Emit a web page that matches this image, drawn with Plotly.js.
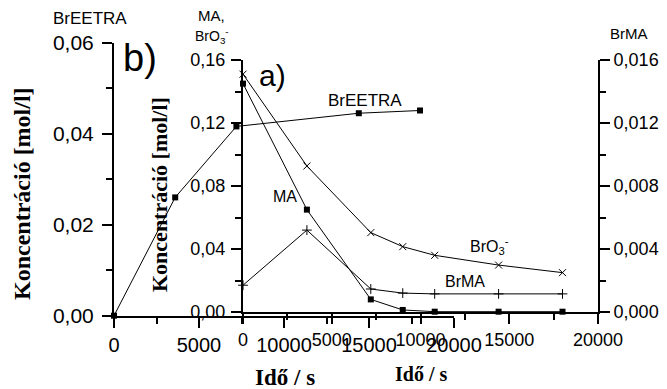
<!DOCTYPE html>
<html>
<head>
<meta charset="utf-8">
<script src="https://cdn.plot.ly/plotly-3.0.1.min.js"></script>
<style>html,body{margin:0;padding:0;background:#fff;}#chart{width:667px;height:389px;}</style>
</head>
<body>
<div id="chart"></div>
<script>
// ---- Data ----
// Plot b): BrEETRA vs time
const timeB = [0, 3600, 7200, 14400, 18000];
const brEETRA = [0, 0.026, 0.0416, 0.0445, 0.0451];

// Plot a): MA, BrO3-, BrMA vs time
const timeA = [0, 3600, 7200, 9000, 10800, 14400, 18000];
const maConc = [0.145, 0.065, 0.008, 0.0013, 0.0002, 0.0002, 0.0002];
const bro3Conc = [0.151, 0.0927, 0.0504, 0.0415, 0.036, 0.0298, 0.025];
const brmaConc = [0.0017, 0.0052, 0.00146, 0.0012, 0.00115, 0.00115, 0.00115];

// Tick values / labels
const xTickVals = [0, 5000, 10000, 15000, 20000];
const xTickText = ["0", "5000", "10000", "15000", "20000"];
const yBTickVals = [0, 0.02, 0.04, 0.06];
const yBTickText = ["0,00", "0,02", "0,04", "0,06"];
const yATickVals = [0, 0.04, 0.08, 0.12, 0.16];
const yATickText = ["0,00", "0,04", "0,08", "0,12", "0,16"];
const yRTickVals = [0, 0.004, 0.008, 0.012, 0.016];
const yRTickText = ["0,000", "0,004", "0,008", "0,012", "0,016"];

const W = 667, H = 389;
const px = v => v / W;
const py = v => 1 - v / H;

const lineStyle = {color: 'black', width: 1};
const traces = [
  {x: timeB, y: brEETRA, xaxis: 'x', yaxis: 'y', mode: 'lines+markers', name: 'BrEETRA',
   line: lineStyle, marker: {symbol: 'square', size: 6, color: 'black'}, cliponaxis: false},
  {x: timeA, y: maConc, xaxis: 'x2', yaxis: 'y2', mode: 'lines+markers', name: 'MA',
   line: lineStyle, marker: {symbol: 'square', size: 6, color: 'black'}, cliponaxis: false},
  {x: timeA, y: bro3Conc, xaxis: 'x2', yaxis: 'y2', mode: 'lines+markers', name: 'BrO3-',
   line: lineStyle, marker: {symbol: 'x-thin', size: 7, color: 'black', line: {color: 'black', width: 1}}, cliponaxis: false},
  {x: timeA, y: brmaConc, xaxis: 'x2', yaxis: 'y3', mode: 'lines+markers', name: 'BrMA',
   line: lineStyle, marker: {symbol: 'cross-thin', size: 7, color: 'black', line: {color: 'black', width: 1}}, cliponaxis: false}
];

const sans = 'Arial, "Liberation Sans", sans-serif';
const serif = '"Times New Roman", "Liberation Serif", serif';

function axisBase(extra) {
  return Object.assign({
    showline: true, linecolor: 'black', linewidth: 2, showgrid: false, zeroline: false,
    ticks: 'outside', ticklen: 10, tickwidth: 2, tickcolor: 'black', tickmode: 'array',
    fixedrange: true
  }, extra);
}

const layout = {
  width: W, height: H,
  margin: {l: 0, r: 0, t: 0, b: 0},
  paper_bgcolor: 'white', plot_bgcolor: 'rgba(0,0,0,0)',
  showlegend: false,
  xaxis: axisBase({domain: [px(114), px(454)], range: [0, 20000], anchor: 'y',
    tickvals: xTickVals, ticktext: xTickText, tickfont: {family: sans, size: 20, color: 'black'},
    minor: {tickvals: [2500, 7500, 12500, 17500], ticklen: 6, tickwidth: 2, tickcolor: 'black', ticks: 'outside'}}),
  yaxis: axisBase({domain: [py(315.7), py(42.7)], range: [0, 0.06], anchor: 'x',
    tickvals: yBTickVals, ticktext: yBTickText, tickfont: {family: sans, size: 21, color: 'black'},
    ticklabelstandoff: 4,
    minor: {tickvals: [0.01, 0.03, 0.05], ticklen: 6, tickwidth: 2, tickcolor: 'black', ticks: 'outside'}}),
  xaxis2: axisBase({domain: [px(243), px(598)], range: [0, 20000], anchor: 'y2',
    tickvals: xTickVals, ticktext: xTickText, tickfont: {family: sans, size: 18, color: 'black'},
    minor: {tickvals: [2500, 7500, 12500, 17500], ticklen: 6, tickwidth: 2, tickcolor: 'black', ticks: 'outside'}}),
  yaxis2: axisBase({domain: [py(312), py(60)], range: [0, 0.16], anchor: 'x2',
    tickvals: yATickVals, ticktext: yATickText, tickfont: {family: sans, size: 18, color: 'black'},
    ticklabelstandoff: 2,
    minor: {tickvals: [0.02, 0.06, 0.10, 0.14], ticklen: 6, tickwidth: 2, tickcolor: 'black', ticks: 'outside'}}),
  yaxis3: axisBase({domain: [py(312), py(60)], range: [0, 0.016], anchor: 'x2', overlaying: 'y2', side: 'right',
    tickvals: yRTickVals, ticktext: yRTickText, tickfont: {family: sans, size: 18, color: 'black'},
    minor: {tickvals: [0.002, 0.006, 0.010, 0.014], ticklen: 6, tickwidth: 2, tickcolor: 'black', ticks: 'outside'}}),
  annotations: [
    {text: 'BrEETRA', x: px(90), y: py(18), font: {family: sans, size: 17}},
    {text: 'b)', x: px(140), y: py(58), font: {family: sans, size: 38}},
    {text: 'a)', x: px(272), y: py(76), font: {family: sans, size: 30}},
    {text: 'MA,', x: px(211), y: py(16), font: {family: sans, size: 15}},
    {text: 'BrO<sub>3</sub><sup>-</sup>', x: px(212), y: py(36), font: {family: sans, size: 14}},
    {text: 'BrMA', x: px(629), y: py(34), font: {family: sans, size: 15}},
    {text: 'BrEETRA', x: px(365), y: py(100), font: {family: sans, size: 17}},
    {text: 'MA', x: px(284.5), y: py(196), font: {family: sans, size: 16}},
    {text: 'BrO<sub>3</sub><sup>-</sup>', x: px(489), y: py(246), font: {family: sans, size: 16}},
    {text: 'BrMA', x: px(465), y: py(281), font: {family: sans, size: 16}},
    {text: '<b>Koncentráció [mol/l]</b>', x: px(22), y: py(194), textangle: -90, font: {family: serif, size: 24}},
    {text: '<b>Koncentráció [mol/l]</b>', x: px(160), y: py(195), textangle: -90, font: {family: serif, size: 22}},
    {text: '<b>Idő / s</b>', x: px(285), y: py(377), font: {family: serif, size: 23}},
    {text: '<b>Idő / s</b>', x: px(421), y: py(374), font: {family: serif, size: 20}}
  ].map(a => Object.assign({xref: 'paper', yref: 'paper', showarrow: false, xanchor: 'center', yanchor: 'middle'}, a,
        {font: Object.assign({color: 'black'}, a.font)}))
};

Plotly.newPlot('chart', traces, layout, {displayModeBar: false, staticPlot: true});
</script>
</body>
</html>
